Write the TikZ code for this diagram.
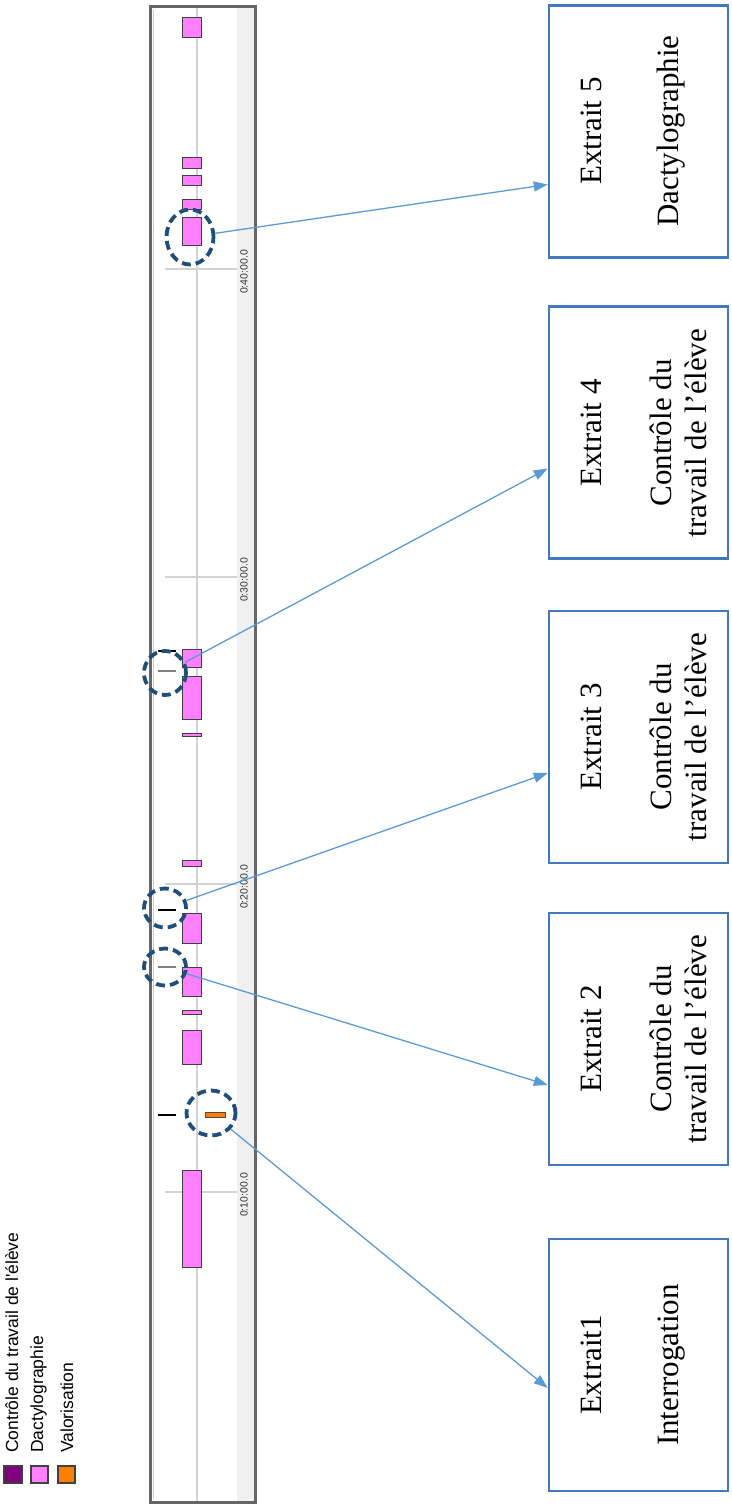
\documentclass[tikz,border=0pt]{standalone}
\usepackage{fontspec}
\setmainfont{Liberation Serif}
\newfontfamily\chartfont{Liberation Sans}
\usetikzlibrary{arrows.meta,positioning,calc,shapes.geometric}
\definecolor{boxblue}{RGB}{65,120,190}
\definecolor{linkblue}{RGB}{91,155,213}
\definecolor{ringblue}{RGB}{31,78,121}
\definecolor{dactylo}{RGB}{255,128,255}
\definecolor{valor}{RGB}{255,128,0}
\definecolor{controle}{RGB}{128,0,128}

\begin{document}
\begin{tikzpicture}[x=1pt,y=-1pt,
  extrait/.style={draw=boxblue,line width=2.5pt,minimum width=179pt,minimum height=252pt,inner sep=0pt},
  etiq/.style={rotate=90,anchor=north,inner sep=0pt,align=center,font=\fontsize{31}{35}\selectfont},
  ring/.style={ellipse,draw=ringblue,line width=3.8pt,dash pattern=on 9pt off 5pt,inner sep=0pt},
  link/.style={draw=linkblue,line width=1.3pt,-{Triangle[length=14pt,width=10pt]}},
  bar/.style={fill=dactylo,draw=black!75,line width=0.9pt},
  legbox/.style={draw=black!75,line width=1.2pt},
  legtext/.style={rotate=90,anchor=base west,inner sep=0pt,font=\chartfont\fontsize{17.5}{20}\selectfont},
  axelab/.style={rotate=90,inner sep=0pt,text=black!80,font=\chartfont\fontsize{10.5}{12}\selectfont}]
  \useasboundingbox (0,0) rectangle (731,1506);

  \fill[gray!12] (237,8) rectangle (255,1502);
  \draw[gray!35,line width=1.5pt] (197,8) -- (197,1502);
  \foreach \t/\lab in {1192/0:10:00.0,884/0:20:00.0,577/0:30:00.0,269/0:40:00.0}{
    \draw[gray!35,line width=1.5pt] (165,\t) -- (237,\t);
    \node[axelab] (lab\t) at (244,\t+3) {\lab};
  }
  \draw[black!60,line width=3pt] (150,7) rectangle (255,1502);
  \draw[gray!40,line width=1pt] (153.5,10) -- (153.5,1499);

  \foreach \a/\b in {17/37,157/168,175/185,199/209,217/245,649/667,676/719,733/736,
    860/866,913/943,967/996,1010/1014,1030/1064,1170/1267}
    \draw[bar] (182,\a) rectangle (201,\b);
  \foreach \y/\c in {651/black,671/gray,910/black,967/gray,1115/black}
    \draw[\c,line width=2pt] (158,\y) -- (176,\y);
  \draw[fill=valor,draw=black!70,line width=0.8pt] (205,1112) rectangle (225,1117);

  \node[ring,minimum width=47pt,minimum height=55pt] (c5) at (190,237) {};
  \node[ring,minimum width=42pt,minimum height=44pt] (c4) at (165,673) {};
  \node[ring,minimum width=42pt,minimum height=39pt] (c3) at (165,908) {};
  \node[ring,minimum width=42pt,minimum height=37pt] (c2) at (165,967) {};
  \node[ring,minimum width=49pt,minimum height=45pt] (c1) at (211,1113) {};

  \node[extrait] (b5) at (638.5,131.5) {};
  \node[extrait] (b4) at (638.5,432.5) {};
  \node[extrait] (b3) at (638.5,737) {};
  \node[extrait] (b2) at (638.5,1039) {};
  \node[extrait] (b1) at (638.5,1365) {};
  \node[etiq] (e5) at (581,131) {Extrait 5\\[42pt]Dactylographie};
  \node[etiq] (e4) at (581,433) {Extrait 4\\[35pt]Contrôle du\\travail de l’élève};
  \node[etiq] (e3) at (581,737) {Extrait 3\\[35pt]Contrôle du\\travail de l’élève};
  \node[etiq] (e2) at (581,1039) {Extrait 2\\[35pt]Contrôle du\\travail de l’élève};
  \node[etiq] (e1) at (581,1365) {Extrait1\\[42pt]Interrogation};

  \draw[link] (c5) -- ($(b5.west)+(0,53)$);
  \draw[link] (c4) -- ($(b4.west)+(0,36)$);
  \draw[link] (c3) -- ($(b3.west)+(0,36)$);
  \draw[link] (c2) -- ($(b2.west)+(0,46)$);
  \draw[link] (c1) -- ($(b1.west)+(0,23)$);

  \draw[legbox,fill=controle] (4,1466) rectangle (22,1483);
  \draw[legbox,fill=dactylo] (31,1466) rectangle (48,1483);
  \draw[legbox,fill=valor] (58,1466) rectangle (75,1483);
  \node[legtext] (lg1) at (18,1453) {Contrôle du travail de l'élève};
  \node[legtext] (lg2) at (43,1453) {Dactylographie};
  \node[legtext] (lg3) at (73,1453) {Valorisation};
\end{tikzpicture}
\end{document}
